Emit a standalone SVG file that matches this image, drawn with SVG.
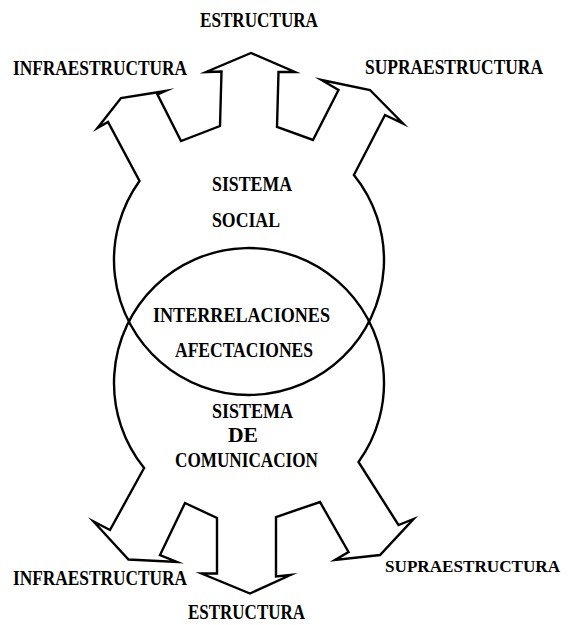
<svg xmlns="http://www.w3.org/2000/svg" width="571" height="625" viewBox="0 0 571 625">
  <style>
    .outline { fill: none; stroke: #000; stroke-width: 2.4; stroke-linejoin: miter; stroke-miterlimit: 10; }
    .lbl { font-family: "Liberation Serif", "Times New Roman", serif; font-size: 20px; font-weight: bold; fill: #000; }
    .lbl-edge { font-size: 17.5px; }
  </style>
  <rect width="571" height="625" fill="#fff"/>

  <!-- Social system: circle opened at the top into three outgoing arrows -->
  <g id="sistema-social">
    <path class="outline" d="M 353.9,175 A 135,135 0 1 1 139.5,181
      L 108,122 L 97.5,128 L 121,98 L 165.5,91 L 157.5,94.5 L 181,141
      L 220,126 L 221.5,71.5 L 206,72 L 251,53 L 295,72 L 278.5,72 L 277,127
      L 313,140 L 338.5,90 L 321.5,80 L 370,90 L 403,123.5 L 385,115 Z"/>
    <text class="lbl" x="212" y="191" textLength="80" lengthAdjust="spacingAndGlyphs">SISTEMA</text>
    <text class="lbl" x="212" y="227" textLength="68" lengthAdjust="spacingAndGlyphs">SOCIAL</text>
  </g>

  <!-- Communication system: circle opened at the bottom into three outgoing arrows -->
  <g id="sistema-comunicacion">
    <path class="outline" d="M 144.1,468 A 135,135 0 1 1 358.5,462
      L 398.5,525 L 413.5,519 L 380,555 L 335,560 L 348.5,552 L 320,502
      L 276,517 L 276,576.5 L 290.5,575 L 250,593.5 L 201.5,573.5 L 217,573.5 L 217,518
      L 185,503 L 160,555 L 177,562 L 128.5,559.5 L 93.5,521.5 L 110,530 Z"/>
    <text class="lbl" x="212" y="418" textLength="81" lengthAdjust="spacingAndGlyphs">SISTEMA</text>
    <text class="lbl" x="228" y="442" textLength="30" lengthAdjust="spacingAndGlyphs">DE</text>
    <text class="lbl" x="175" y="467" textLength="143" lengthAdjust="spacingAndGlyphs">COMUNICACION</text>
  </g>

  <!-- Overlap of both systems -->
  <g id="interseccion">
    <text class="lbl" x="153" y="322" textLength="177" lengthAdjust="spacingAndGlyphs">INTERRELACIONES</text>
    <text class="lbl" x="175" y="357" textLength="138" lengthAdjust="spacingAndGlyphs">AFECTACIONES</text>
  </g>

  <!-- Arrow labels, upper system -->
  <g id="social-estructura">
    <text class="lbl" x="200" y="27" textLength="118" lengthAdjust="spacingAndGlyphs">ESTRUCTURA</text>
  </g>
  <g id="social-infraestructura">
    <text class="lbl" x="13" y="75" textLength="174" lengthAdjust="spacingAndGlyphs">INFRAESTRUCTURA</text>
  </g>
  <g id="social-supraestructura">
    <text class="lbl" x="365" y="74" textLength="178" lengthAdjust="spacingAndGlyphs">SUPRAESTRUCTURA</text>
  </g>

  <!-- Arrow labels, lower system -->
  <g id="comunicacion-infraestructura">
    <text class="lbl" x="13" y="585" textLength="174" lengthAdjust="spacingAndGlyphs">INFRAESTRUCTURA</text>
  </g>
  <g id="comunicacion-supraestructura">
    <text class="lbl lbl-edge" x="385" y="572" textLength="175" lengthAdjust="spacingAndGlyphs">SUPRAESTRUCTURA</text>
  </g>
  <g id="comunicacion-estructura">
    <text class="lbl" x="188" y="619" textLength="117" lengthAdjust="spacingAndGlyphs">ESTRUCTURA</text>
  </g>

  <!-- No separate connectors: the arrows are part of each system outline -->
  <g id="connectors"/>
</svg>
